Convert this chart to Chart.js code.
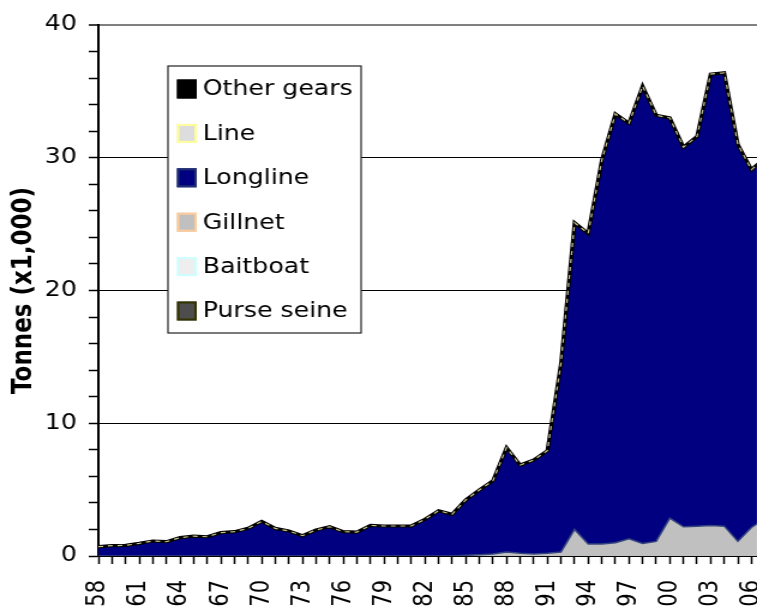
<!DOCTYPE html>
<html>
<head>
<meta charset="utf-8">
<script src="https://cdn.jsdelivr.net/npm/chart.js@4.4.1/dist/chart.umd.min.js"></script>
<style>
  html, body { margin: 0; padding: 0; overflow: hidden; background: #fff; }
  #wrap { width: 631px; height: 609px; overflow: hidden; transform: scaleX(1.1997); transform-origin: 0 0; }
</style>
</head>
<body>
<div id="wrap"><canvas id="area-chart" width="680" height="640"></canvas></div>
<script>
// catch by gear, tonnes x1,000 (1958-2007)
const years = [1958, 1959, 1960, 1961, 1962, 1963, 1964, 1965, 1966, 1967,
  1968, 1969, 1970, 1971, 1972, 1973, 1974, 1975, 1976, 1977,
  1978, 1979, 1980, 1981, 1982, 1983, 1984, 1985, 1986, 1987,
  1988, 1989, 1990, 1991, 1992, 1993, 1994, 1995, 1996, 1997,
  1998, 1999, 2000, 2001, 2002, 2003, 2004, 2005, 2006, 2007];

const purseSeine = [0, 0, 0, 0, 0, 0, 0, 0, 0, 0,
  0, 0, 0, 0, 0, 0, 0, 0, 0, 0,
  0, 0, 0, 0, 0, 0, 0, 0, 0, 0,
  0, 0, 0, 0, 0, 0, 0, 0, 0, 0,
  0, 0, 0, 0, 0, 0, 0, 0, 0, 0];
const baitboat = [0, 0, 0, 0, 0, 0, 0, 0, 0, 0,
  0, 0, 0, 0, 0, 0, 0, 0, 0, 0,
  0, 0, 0, 0, 0, 0, 0, 0, 0, 0,
  0, 0, 0, 0, 0, 0, 0, 0, 0, 0,
  0, 0, 0, 0, 0, 0, 0, 0, 0, 0];
const gillnet = [0, 0, 0, 0, 0, 0, 0, 0, 0, 0,
  0, 0, 0, 0, 0, 0, 0, 0, 0, 0,
  0, 0, 0, 0, 0, 0, 0, 0.05, 0.1, 0.15,
  0.3, 0.2, 0.15, 0.2, 0.3, 2.0, 0.9, 0.9, 1.0, 1.3,
  0.95, 1.1, 2.85, 2.2, 2.25, 2.3, 2.25, 1.1, 2.15, 2.8];
const longline = [0.7, 0.78, 0.8, 0.95, 1.13, 1.08, 1.38, 1.5, 1.45, 1.76,
  1.83, 2.08, 2.6, 2.08, 1.88, 1.53, 1.96, 2.2, 1.83, 1.8,
  2.3, 2.26, 2.26, 2.26, 2.76, 3.41, 3.14, 4.17, 4.87, 5.52,
  7.86, 6.65, 7.08, 7.73, 14.2, 23.1, 23.4, 28.9, 32.3, 31.3,
  34.45, 32.1, 30.15, 28.6, 29.35, 34.0, 34.15, 29.9, 26.95, 27.2];
const line = [0, 0, 0, 0, 0, 0, 0, 0, 0, 0,
  0, 0, 0, 0, 0, 0, 0, 0, 0, 0,
  0, 0, 0, 0, 0, 0, 0, 0, 0, 0,
  0, 0, 0, 0, 0, 0, 0, 0, 0, 0,
  0, 0, 0, 0, 0, 0, 0, 0, 0, 0];
const otherGears = [0, 0, 0, 0, 0, 0, 0, 0, 0, 0,
  0, 0, 0, 0, 0, 0, 0, 0, 0, 0,
  0, 0, 0, 0, 0, 0, 0, 0, 0, 0,
  0, 0, 0, 0, 0, 0, 0, 0, 0, 0,
  0, 0, 0, 0, 0, 0, 0, 0, 0, 0];

const tickYears = [1958, 1961, 1964, 1967, 1970, 1973, 1976, 1979, 1982, 1985, 1988, 1991, 1994, 1997, 2000, 2003, 2006];
const tickText = ['58', '61', '64', '67', '70', '73', '76', '79', '82', '85', '88', '91', '94', '97', '00', '03', '06'];

const points = vals => years.map((yr, i) => ({x: yr, y: vals[i]}));
const clear = 'rgba(0,0,0,0)';

Chart.defaults.font.family = "'DejaVu Sans', Verdana, sans-serif";
Chart.defaults.color = '#000';

// legend box drawn like the spreadsheet one: white box, swatch with coloured edge
const boxLegend = {
  id: 'boxLegend',
  afterDraw(chart) {
    const ctx = chart.ctx;
    const left = chart.chartArea.left + 58, top = chart.chartArea.top + 41;
    ctx.save();
    ctx.fillStyle = '#fff';
    ctx.fillRect(left, top, 161, 267);
    ctx.strokeStyle = '#222';
    ctx.lineWidth = 1.2;
    ctx.strokeRect(left, top, 161, 267);
    ctx.font = "21px 'DejaVu Sans'";
    ctx.textBaseline = 'middle';
    const sets = chart.data.datasets.slice().reverse();
    sets.forEach((ds, i) => {
      const cy = top + 23 + i * 44.4;
      ctx.fillStyle = ds.swatchFill;
      ctx.fillRect(left + 7.5, cy - 9.5, 16.5, 19);
      ctx.strokeStyle = ds.swatchEdge;
      ctx.lineWidth = 2;
      ctx.strokeRect(left + 8.5, cy - 8.5, 14.5, 17);
      ctx.fillStyle = '#000';
      ctx.fillText(ds.label, left + 29, cy + 1);
    });
    ctx.restore();
  }
};

new Chart(document.getElementById('area-chart'), {
  type: 'line',
  data: {
    datasets: [
      { label: 'Purse seine', data: points(purseSeine), fill: 'origin',
        backgroundColor: '#4d4d4d', borderColor: clear, borderWidth: 1,
        swatchFill: '#4d4d4d', swatchEdge: '#333300' },
      { label: 'Baitboat', data: points(baitboat), fill: '-1',
        backgroundColor: '#eeeeee', borderColor: clear, borderWidth: 1,
        swatchFill: '#eeeeee', swatchEdge: '#ccffff' },
      { label: 'Gillnet', data: points(gillnet), fill: '-1',
        backgroundColor: '#c0c0c0', borderColor: '#34457e', borderWidth: 1.5,
        swatchFill: '#c0c0c0', swatchEdge: '#ffcc99' },
      { label: 'Longline', data: points(longline), fill: '-1',
        backgroundColor: '#000080', borderColor: clear, borderWidth: 1,
        swatchFill: '#000080', swatchEdge: '#1f2f6f' },
      { label: 'Line', data: points(line), fill: '-1',
        backgroundColor: '#dddddd', borderColor: '#c9c18c', borderWidth: 1.2, borderDash: [4, 4],
        swatchFill: '#dddddd', swatchEdge: '#ffff99' },
      { label: 'Other gears', data: points(otherGears), fill: '-1',
        backgroundColor: '#000000', borderColor: '#000000', borderWidth: 3.2,
        swatchFill: '#000000', swatchEdge: '#000000' }
    ]
  },
  options: {
    responsive: false,
    animation: false,
    devicePixelRatio: 1,
    layout: { padding: { top: 25, right: 49, bottom: 0, left: 0 } },
    elements: { point: { radius: 0 }, line: { tension: 0 } },
    plugins: {
      legend: { display: false },
      tooltip: { enabled: false },
      filler: { drawTime: 'beforeDatasetsDraw' }
    },
    scales: {
      x: {
        type: 'linear',
        min: 1958,
        max: 2006.41,
        afterBuildTicks: s => { s.ticks = years.filter(y => y <= 2006).map(v => ({value: v})); },
        afterFit: s => { s.height = 84; },
        ticks: {
          autoSkip: false, minRotation: 90, maxRotation: 90, padding: 16,
          font: { size: 21 },
          callback: v => { const i = tickYears.indexOf(v); return i >= 0 ? tickText[i] : ''; }
        },
        grid: { drawOnChartArea: false, drawTicks: true, tickLength: 8, tickColor: '#000', tickWidth: 1.5 },
        border: { color: '#000', width: 2 }
      },
      y: {
        stacked: true,
        min: 0,
        max: 40,
        afterFit: s => { s.width = 82; },
        ticks: {
          stepSize: 2, padding: 10, autoSkip: false,
          font: { size: 21 },
          callback: v => (v % 10 === 0 ? v : '')
        },
        grid: {
          color: c => (c.tick && c.tick.value === 40 ? '#808080'
            : (c.tick && c.tick.value > 0 && c.tick.value % 10 === 0 ? '#000' : clear)),
          lineWidth: c => (c.tick && c.tick.value === 40 ? 2 : 1),
          tickLength: 8, tickColor: '#000', tickWidth: 1.5
        },
        border: { color: '#000', width: 2 },
        title: {
          display: true,
          text: 'Tonnes (x1,000)',
          font: { size: 23, weight: 'bold' },
          padding: { top: 6, bottom: 0 }
        }
      }
    }
  },
  plugins: [boxLegend]
});
</script>
</body>
</html>
